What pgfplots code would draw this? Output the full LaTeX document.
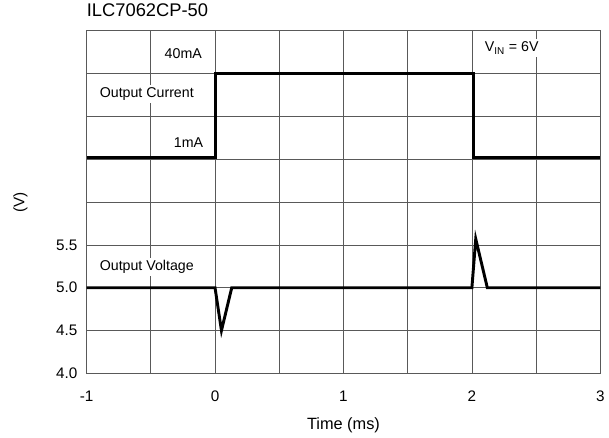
\documentclass[border=0pt]{standalone}
\usepackage{fontspec}
\setmainfont{Liberation Sans}
\usepackage{pgfplots}
\pgfplotsset{compat=1.18}
\begin{document}
\begin{tikzpicture}
\begin{axis}[
  name=ax,
  scale only axis,
  width=387pt, height=258pt,
  xmin=-1, xmax=3, ymin=4, ymax=8,
  xtick={-1,0,1,2,3},
  xticklabels={-1,0,1,2,3},
  minor xtick={-0.5,0.5,1.5,2.5},
  ytick={4,4.5,5,5.5,6,6.5,7,7.5,8},
  yticklabels={4.0,4.5,5.0,5.5,,,,,},
  grid=both,
  major grid style={black!65, line width=0.6pt},
  minor grid style={black!65, line width=0.6pt},
  major tick length=0pt, minor tick length=0pt,
  axis line style={black!65, line width=0.7pt},
  tick label style={font=\fontsize{11.5}{13}\selectfont},
  yticklabel style={xshift=-3.5pt},
  xticklabel style={yshift=-9.5pt},
  title={ILC7062CP-50},
  title style={at={(axis description cs:0,1)}, anchor=south west, inner sep=0pt, yshift=4.5pt, font=\fontsize{13.8}{15}\selectfont},
  xlabel={Time (ms)},
  xlabel style={at={(axis description cs:0.5,-0.152)}, anchor=center, font=\fontsize{12.3}{14}\selectfont},
  ylabel={(V)},
  ylabel style={at={(axis description cs:-0.129,0.5)}, anchor=center, font=\fontsize{11.5}{13}\selectfont},
  clip=false,
]
% annotation boxes
\tikzset{lbl/.style={fill=white, inner sep=2pt, font=\fontsize{10.7}{12}\selectfont}}
\node[lbl, anchor=east] at (axis cs:-0.08,7.73) {40mA};
\node[lbl, anchor=west] at (axis cs:-0.92,7.26) {Output Current};
\node[lbl, anchor=east] at (axis cs:-0.07,6.70) {1mA};
\node[lbl, anchor=center] at (axis cs:2.31,7.80) {V\textsubscript{IN} = 6V};
\node[lbl, anchor=west] at (axis cs:-0.92,5.24) {Output Voltage};
% output current step
\addplot[black, line width=2.2pt, line join=miter] coordinates {
  (-1,6.52) (0,6.52) (0,7.5) (2.01,7.5) (2.01,6.52) (3,6.52)
};
% output voltage transient
\addplot[black, line width=2.2pt, line join=miter] coordinates {
  (-1,5) (0,5) (0.05,4.5) (0.13,5) (2.0,5) (2.03,5.57) (2.12,5) (3,5)
};
\end{axis}
\path[use as bounding box] ([xshift=-65.25pt, yshift=-43.5pt]ax.south west) rectangle ([xshift=4.5pt, yshift=23.25pt]ax.north east);
\end{tikzpicture}
\end{document}
